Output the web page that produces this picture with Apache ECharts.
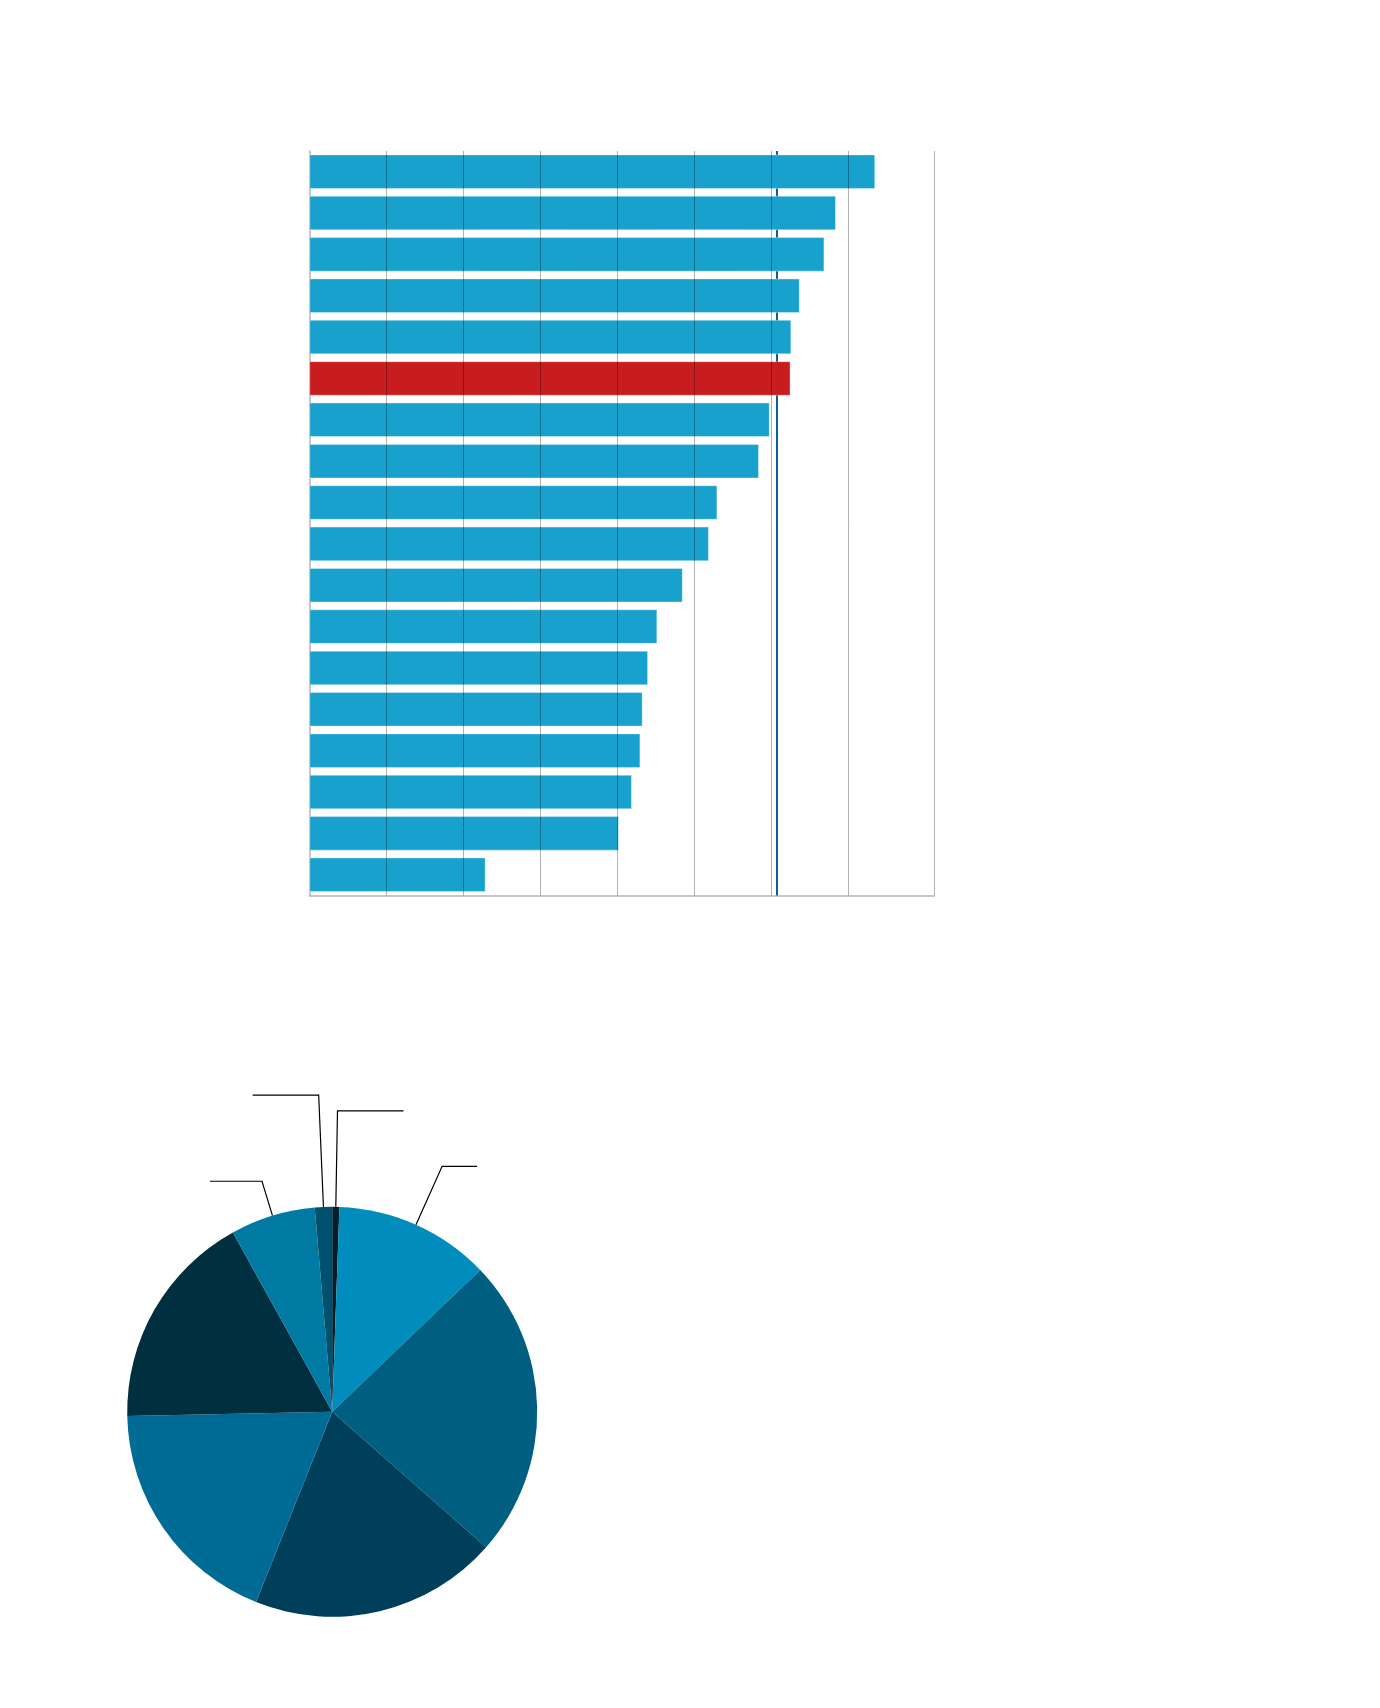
<!DOCTYPE html>
<html>
<head>
<meta charset="utf-8">
<script src="https://cdn.jsdelivr.net/npm/echarts@6/dist/echarts.min.js"></script>
<style>
html,body{margin:0;padding:0;background:#fff;}
#chart{width:1380px;height:1708px;}
</style>
</head>
<body>
<div id="chart"></div>
<script>
// ---- data ----
var barCategories = ['C1','C2','C3','C4','C5','C6','C7','C8','C9','C10','C11','C12','C13','C14','C15','C16','C17','C18'];
var barValues = [73.5, 68.4, 66.9, 63.7, 62.6, 62.5, 59.8, 58.4, 53.0, 51.9, 48.5, 45.2, 44.0, 43.3, 43.0, 41.9, 40.2, 22.9];
var highlightIndex = 5;
var averageValue = 60.7;
var axisMax = 81.17;
var gridTicks = [10, 20, 30, 40, 50, 60, 70, 81.17];

var pieNames = ['S1','S2','S3','S4','S5','S6','S7','S8'];
var pieValues = [0.56, 12.28, 23.64, 19.58, 18.61, 17.28, 6.69, 1.36];
var pieColors = ['#01202c','#008cbc','#005f80','#003f5a','#006b94','#002f40','#007aa3','#00516d'];
// leader line lengths for the small labelled slices (null = no leader)
var pieLeaderLen = [96, 64, null, null, null, null, 36, 112];
var pieLeaderLen2 = [66, 35, null, null, null, null, 52, 66];

var chart = echarts.init(document.getElementById('chart'), null, {renderer:'canvas'});

var barData = barValues.map(function(v, i){
  return {
    value: v,
    itemStyle: {
      color: i === highlightIndex ? '#c81c1e' : '#19a1cd',
      borderColor: 'rgba(255,255,255,0.35)',
      borderWidth: 1
    }
  };
});

var pieData = pieValues.map(function(v, i){
  var has = pieLeaderLen[i] !== null;
  return {
    name: pieNames[i],
    value: v,
    itemStyle: {color: pieColors[i]},
    label: {show: has, formatter: ' '},
    labelLine: has ? {show: true, length: pieLeaderLen[i], length2: pieLeaderLen2[i]} : {show: false}
  };
});

var option = {
  backgroundColor: '#ffffff',
  animation: false,
  grid: {left: 309.3, right: 445.7, top: 151, height: 744.4, containLabel: false},
  xAxis: {
    type: 'value',
    min: 0,
    max: axisMax,
    axisLine: {show: true, lineStyle: {color: '#b5b5b5', width: 1.5}},
    axisTick: {show: false},
    axisLabel: {show: false},
    splitLine: {show: false}
  },
  yAxis: {
    type: 'category',
    data: barCategories,
    inverse: true,
    axisLine: {show: true, lineStyle: {color: '#b5b5b5', width: 1.5}},
    axisTick: {show: false},
    axisLabel: {show: false},
    splitLine: {show: false}
  },
  series: [
    {
      type: 'bar',
      data: barData,
      barCategoryGap: '16.5%',
      z: 2,
      markLine: {
        z: 1,
        silent: true,
        symbol: ['none','none'],
        label: {show: false},
        lineStyle: {color: '#0a5f9b', width: 2, type: 'solid'},
        data: [{xAxis: averageValue}]
      }
    },
    {
      type: 'line',
      data: [],
      z: 6,
      markLine: {
        z: 6,
        silent: true,
        symbol: ['none','none'],
        label: {show: false},
        lineStyle: {color: 'rgba(0,0,0,0.3)', width: 1, type: 'solid'},
        data: gridTicks.map(function(t){ return {xAxis: t}; })
      }
    },
    {
      type: 'pie',
      center: [332.2, 1411.8],
      radius: [0, 205],
      startAngle: 90,
      clockwise: true,
      avoidLabelOverlap: false,
      label: {show: false, position: 'outside', fontSize: 10, color: '#000'},
      labelLine: {lineStyle: {color: '#000', width: 1.2}, smooth: false},
      emphasis: {disabled: true},
      data: pieData
    }
  ]
};
chart.setOption(option);
</script>
</body>
</html>
